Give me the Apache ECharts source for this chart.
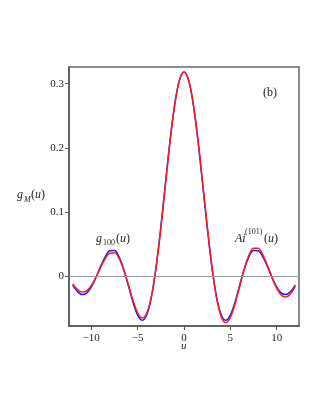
<!DOCTYPE html>
<html>
<head>
<meta charset="utf-8">
<script src="https://cdn.jsdelivr.net/npm/echarts@6/dist/echarts.min.js"></script>
<style>
  html, body { margin: 0; padding: 0; background: #fff; }
  #chart { width: 323px; height: 418px; }
</style>
</head>
<body>
<div id="chart"></div>
<script>
// u grid, step 0.5
const uVals = [-12, -11.5, -11, -10.5, -10, -9.5, -9, -8.5, -8, -7.5, -7, -6.5, -6, -5.5, -5, -4.5, -4, -3.5, -3, -2.5, -2, -1.5, -1, -0.5,
  0, 0.5, 1, 1.5, 2, 2.5, 3, 3.5, 4, 4.5, 5, 5.5, 6, 6.5, 7, 7.5, 8, 8.5, 9, 9.5, 10, 10.5, 11, 11.5, 12];

// g_100(u), blue
const g100 = [-0.0142, -0.0242, -0.0289, -0.0267, -0.0173, -0.0025, 0.0146, 0.0299, 0.0394, 0.0398, 0.0299, 0.0105, -0.0148, -0.0408, -0.0610, -0.0691, -0.0602, -0.0319, 0.0150, 0.0762, 0.1447, 0.2117, 0.2678, 0.3052,
  0.3183, 0.3052, 0.2678, 0.2117, 0.1447, 0.0762, 0.0150, -0.0319, -0.0602, -0.0691, -0.0610, -0.0408, -0.0148, 0.0105, 0.0299, 0.0398, 0.0394, 0.0299, 0.0146, -0.0025, -0.0173, -0.0267, -0.0289, -0.0242, -0.0142];

// Ai^(101)(u), red
const ai101 = [-0.0122, -0.0209, -0.0251, -0.0233, -0.0152, -0.0022, 0.0130, 0.0269, 0.0356, 0.0362, 0.0274, 0.0097, -0.0137, -0.0381, -0.0573, -0.0654, -0.0573, -0.0306, 0.0144, 0.0739, 0.1429, 0.2104, 0.2671, 0.3048,
  0.3183, 0.3055, 0.2685, 0.2130, 0.1465, 0.0785, 0.0156, -0.0332, -0.0631, -0.0728, -0.0647, -0.0435, -0.0159, 0.0113, 0.0324, 0.0434, 0.0432, 0.0330, 0.0162, -0.0028, -0.0194, -0.0301, -0.0327, -0.0276, -0.0162];

const xTicks = [-10, -5, 0, 5, 10];
const yTicks = [0, 0.1, 0.2, 0.3];

const font = '"Liberation Serif", "DejaVu Serif", serif';
const myChart = echarts.init(document.getElementById('chart'));

function pairs (ys) {
  return uVals.map((u, i) => [u, ys[i]]);
}

function txt (x, y, s, size, italic) {
  return {
    type: 'text',
    left: x,
    top: y,
    style: {
      text: s,
      font: (italic ? 'italic ' : '') + size + 'px ' + font,
      fill: '#222'
    }
  };
}

myChart.setOption({
  animation: false,
  grid: {
    left: 69,
    right: 24,
    top: 67,
    bottom: 92,
    show: true,
    borderColor: '#666',
    borderWidth: 1.5
  },
  xAxis: {
    type: 'value',
    min: -12.4,
    max: 12.4,
    splitLine: { show: false },
    axisLine: { onZero: false, lineStyle: { color: '#555', width: 1.5 } },
    axisTick: { customValues: xTicks, length: 4, lineStyle: { color: '#555' } },
    axisLabel: {
      customValues: xTicks,
      margin: 7,
      color: '#222',
      fontFamily: font,
      fontSize: 11,
      formatter: v => (v < 0 ? '\u2212' + Math.abs(v) : String(v))
    }
  },
  yAxis: {
    type: 'value',
    min: -0.078,
    max: 0.326,
    splitLine: { show: false },
    axisLine: { onZero: false, lineStyle: { color: '#555', width: 1.5 } },
    axisTick: { customValues: yTicks, length: 4, lineStyle: { color: '#555' } },
    axisLabel: {
      customValues: yTicks,
      margin: 5,
      color: '#222',
      fontFamily: font,
      fontSize: 11,
      formatter: v => (v === 0 ? '0' : String(v))
    }
  },
  series: [
    {
      name: 'g100',
      type: 'line',
      data: pairs(g100),
      smooth: 0.35,
      symbol: 'none',
      lineStyle: { color: '#1a1aff', width: 1.5 },
      markLine: {
        silent: true,
        symbol: 'none',
        label: { show: false },
        lineStyle: { color: '#999', width: 1, type: 'solid' },
        data: [{ yAxis: 0 }]
      }
    },
    {
      name: 'ai101',
      type: 'line',
      data: pairs(ai101),
      smooth: 0.35,
      symbol: 'none',
      lineStyle: { color: '#ff1a1a', width: 1.5 }
    }
  ],
  graphic: [
    // y-axis title g_M(u)
    txt(17, 189, 'g', 12, true),
    txt(24, 196, 'M', 8, true),
    txt(31, 189, '(', 12, false),
    txt(35, 189, 'u', 12, true),
    txt(41, 189, ')', 12, false),
    // x-axis title
    txt(181, 341, 'u', 11, true),
    // panel label
    txt(263, 87, '(b)', 12, false),
    // g_100(u)
    txt(96, 233, 'g', 12, true),
    txt(103, 239, '100', 8, false),
    txt(116, 233, '(', 12, false),
    txt(120, 233, 'u', 12, true),
    txt(126, 233, ')', 12, false),
    // Ai^(101)(u)
    txt(235, 233, 'Ai', 12, true),
    txt(245, 228, '(101)', 8, false),
    txt(264, 233, '(', 12, false),
    txt(268, 233, 'u', 12, true),
    txt(274, 233, ')', 12, false)
  ]
});
</script>
</body>
</html>
